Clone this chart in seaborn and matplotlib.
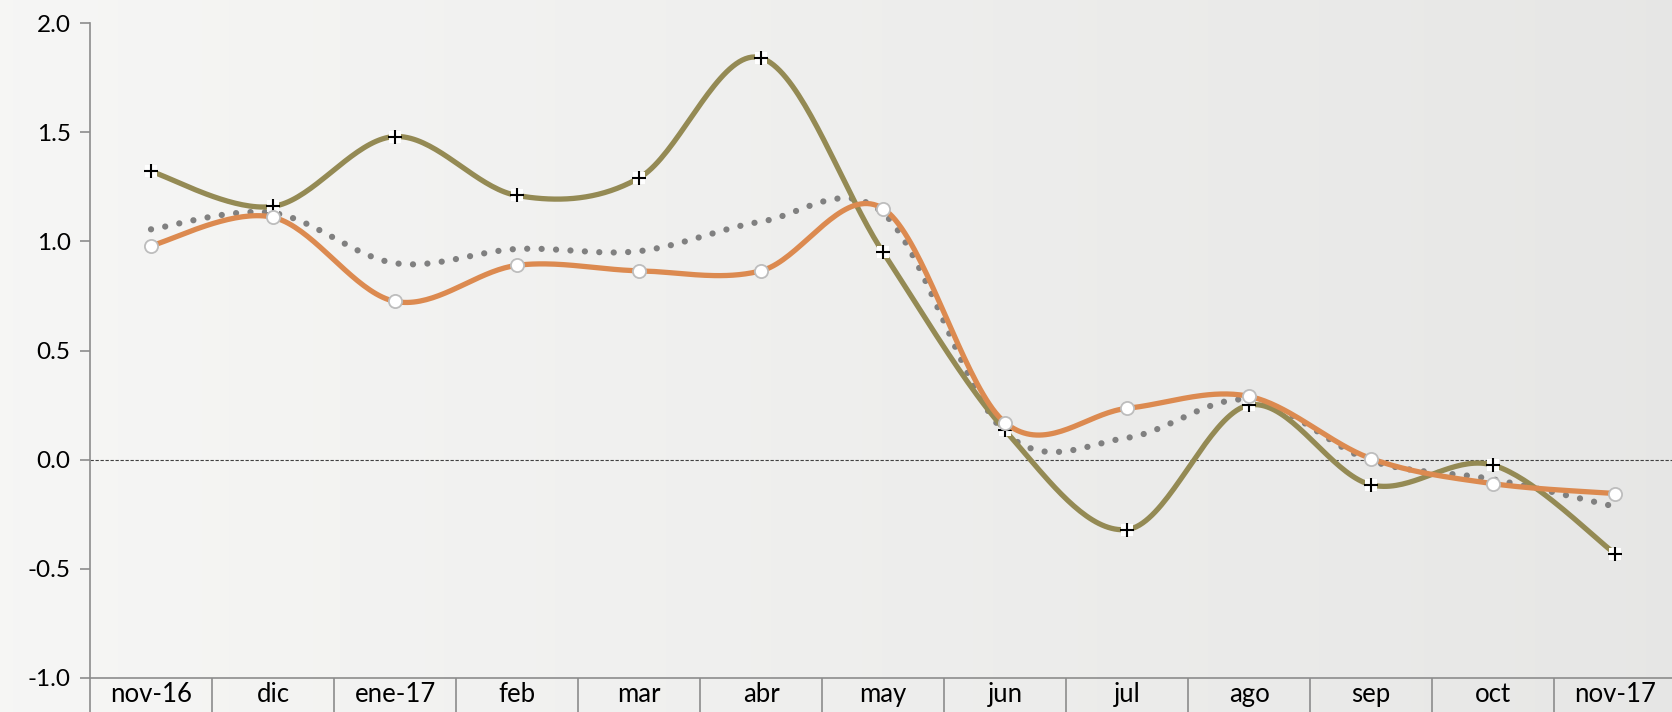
import numpy as np
import pandas as pd
import matplotlib
matplotlib.use('Agg')
import matplotlib.pyplot as plt
import seaborn as sns

# data
months = ['nov-16', 'dic', 'ene-17', 'feb', 'mar', 'abr', 'may',
          'jun', 'jul', 'ago', 'sep', 'oct', 'nov-17']
olive_vals = [1.32, 1.16, 1.48, 1.21, 1.29, 1.84, 0.95,
              0.135, -0.32, 0.25, -0.115, -0.025, -0.43]
orange_vals = [0.98, 1.11, 0.725, 0.89, 0.865, 0.865, 1.15,
               0.17, 0.235, 0.29, 0.005, -0.11, -0.155]
gray_vals = [1.055, 1.13, 0.90, 0.965, 0.955, 1.09, 1.13,
             0.125, 0.10, 0.275, -0.005, -0.09, -0.215]
yticks = [-1.0, -0.5, 0.0, 0.5, 1.0, 1.5, 2.0]

OLIVE = '#948a54'
ORANGE = '#dc8a50'
GRAY = '#808080'
AXIS = '#8c8c8c'


def smooth(vals, n=40):
    """Excel-like smoothed line: cubic bezier segments through the points."""
    y = np.asarray(vals, float)
    x = np.arange(len(y), dtype=float)
    P = np.column_stack([x, y])
    t = np.linspace(0, 1, n)[:, None]
    out = []
    for i in range(len(P) - 1):
        i0, i3 = max(i - 1, 0), min(i + 2, len(P) - 1)
        c1 = P[i] + (P[i + 1] - P[i0]) / 6
        c2 = P[i + 1] - (P[i3] - P[i]) / 6
        seg = ((1 - t) ** 3 * P[i] + 3 * (1 - t) ** 2 * t * c1
               + 3 * (1 - t) * t ** 2 * c2 + t ** 3 * P[i + 1])
        out.append(seg if i == 0 else seg[1:])
    pts = np.vstack(out)
    return pd.DataFrame({'x': pts[:, 0], 'y': pts[:, 1]})


sns.set_theme(style='white')
plt.rcParams['font.family'] = ['Lato', 'DejaVu Sans']

fig = plt.figure(figsize=(16.72, 7.12), dpi=100)

# soft light background
bg = fig.add_axes([0, 0, 1, 1], zorder=-10)
grad = np.linspace(0.965, 0.905, 256)[None, :]
bg.imshow(np.dstack([grad, grad, grad * 0.995]), aspect='auto', extent=[0, 1, 0, 1])
bg.axis('off')

ax = fig.add_axes([90 / 1672, 1 - 678 / 712, 1586 / 1672, 655 / 712])
ax.set_facecolor('none')

ax.axhline(0, color='#404040', lw=0.8, ls=(0, (3, 1.5)), zorder=1)

# dotted gray
g = smooth(gray_vals)
sns.lineplot(data=g, x='x', y='y', ax=ax, sort=False, estimator=None,
             color=GRAY, lw=4.5, linestyle=(0, (0.01, 2.3)),
             dash_capstyle='round', zorder=2)

# olive with plus markers
o = smooth(olive_vals)
sns.lineplot(data=o, x='x', y='y', ax=ax, sort=False, estimator=None,
             color=OLIVE, lw=3.8, zorder=3)
xs = np.arange(len(months))
sns.scatterplot(x=xs, y=olive_vals, ax=ax, marker='s', s=70,
                color='white', linewidth=0, zorder=4)
sns.scatterplot(x=xs, y=olive_vals, ax=ax, marker='+', s=90,
                color='black', linewidth=1.5, zorder=5)

# orange with white circles
r = smooth(orange_vals)
sns.lineplot(data=r, x='x', y='y', ax=ax, sort=False, estimator=None,
             color=ORANGE, lw=3.8, zorder=6)
sns.scatterplot(x=xs, y=orange_vals, ax=ax, marker='o', s=90,
                facecolor='white', edgecolor='#bdbdbd', linewidth=1.3, zorder=7)

ax.set_xlim(-0.5, len(months) - 0.5)
ax.set_ylim(-1.0, 2.0)
ax.set_xlabel('')
ax.set_ylabel('')

# category axis: boundary ticks + centred labels
ax.set_xticks(np.arange(-0.5, len(months), 1.0))
ax.set_xticklabels([])
ax.set_xticks(xs, minor=True)
ax.set_xticklabels(months, minor=True)
ax.tick_params(axis='x', which='major', bottom=True, length=40, width=1.2,
               color=AXIS, direction='out')
ax.tick_params(axis='x', which='minor', bottom=True, length=0, pad=3,
               labelsize=18.5, labelcolor='black')

ax.set_yticks(yticks)
ax.set_yticklabels([f'{v:.1f}' for v in yticks])
ax.tick_params(axis='y', left=True, length=7, width=1.2, color=AXIS,
               direction='out', pad=7, labelsize=17.5, labelcolor='black')

for side in ['top', 'right']:
    ax.spines[side].set_visible(False)
for side in ['left', 'bottom']:
    ax.spines[side].set_color(AXIS)
    ax.spines[side].set_linewidth(1.2)

fig.savefig('out.png', dpi=100)
